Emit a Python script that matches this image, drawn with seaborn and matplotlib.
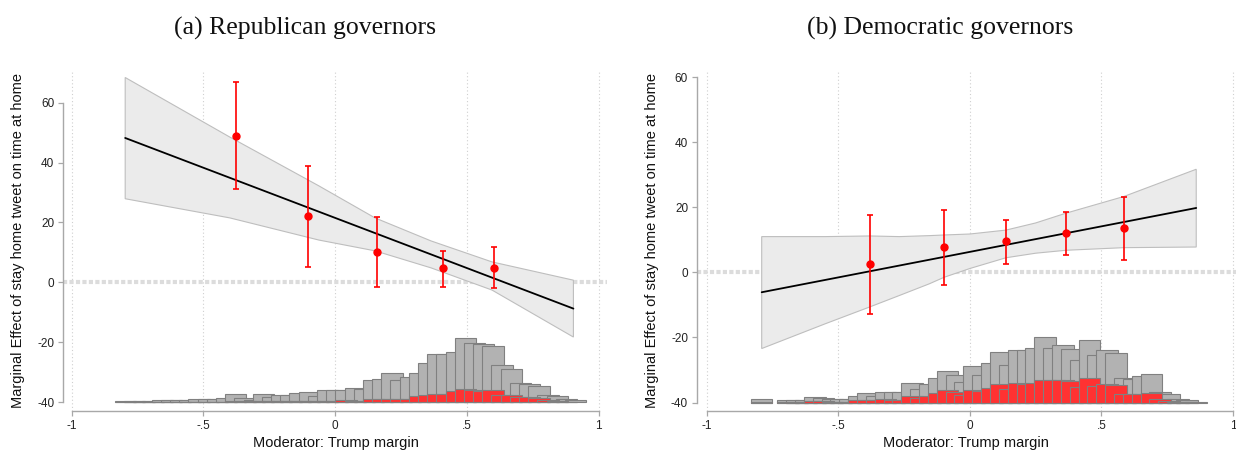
import numpy as np
import pandas as pd
import matplotlib
matplotlib.use("Agg")
import matplotlib.pyplot as plt
import seaborn as sns

# ---------------- Republican governors ----------------
rep_line_x = [-0.797, 0.904]
rep_line_y = [48.2, -8.8]
rep_band_x = [-0.797, -0.4, -0.062, 0.151, 0.364, 0.595, 0.904]
rep_band_hi = [68.4, 48.5, 32.2, 21.5, 13.8, 6.8, 0.7]
rep_band_lo = [27.9, 21.5, 14.1, 10.5, 4.8, -2.6, -18.3]
rep_bin_x = [-0.375, -0.104, 0.157, 0.408, 0.603]
rep_bin_est = [49.0, 22.1, 10.1, 4.6, 4.9]
rep_bin_lo = [31.1, 5.1, -1.6, -1.6, -2.0]
rep_bin_hi = [66.9, 38.9, 21.8, 10.6, 11.7]
# moderator histogram (all units / treated units), 50 bins over the moderator range
rep_hist_range = (-0.836, 0.872)
rep_hist_all = [0.2, 0.5, 0.5, 0.3, 0.8, 0.7, 0.8, 0.8, 1.1, 1.0,
                1.1, 1.3, 2.8, 1.5, 0.8, 2.8, 1.7, 2.2, 2.5, 3.0,
                3.5, 1.9, 3.9, 3.9, 4.0, 4.8, 4.3, 7.2, 7.8, 9.8,
                7.5, 8.2, 9.7, 12.9, 16.0, 16.0, 16.8, 21.5, 19.7, 19.3,
                18.6, 12.3, 10.9, 6.5, 6.1, 5.3, 2.2, 2.0, 1.1, 0.6]
rep_hist_treated = [0.1, 0.1, 0.1, 0.1, 0.1, 0.1, 0.1, 0.1, 0.1, 0.1,
                    0.1, 0.1, 0.2, 0.3, 0.2, 0.3, 0.2, 0.3, 0.3, 0.3,
                    0.3, 0.3, 0.3, 0.5, 0.6, 0.5, 0.5, 0.9, 1.1, 1.1,
                    0.9, 1.1, 2.0, 2.5, 2.8, 2.8, 3.6, 4.5, 4.1, 3.7,
                    4.1, 2.5, 2.2, 1.7, 1.7, 1.3, 0.8, 0.3, 0.1, 0.0]

# ---------------- Democratic governors ----------------
dem_line_x = [-0.791, 0.860]
dem_line_y = [-6.1, 19.8]
dem_band_x = [-0.791, -0.55, -0.38, -0.268, -0.154, -0.098, 0.0, 0.137, 0.25, 0.365, 0.584, 0.860]
dem_band_hi = [11.0, 11.0, 11.2, 11.0, 11.3, 11.5, 11.8, 13.0, 15.2, 18.2, 23.3, 31.7]
dem_band_lo = [-23.4, -15.8, -10.6, -7.1, -3.5, -1.5, 1.2, 4.5, 5.9, 6.8, 7.6, 7.8]
dem_bin_x = [-0.380, -0.098, 0.137, 0.365, 0.584]
dem_bin_est = [2.5, 7.7, 9.5, 12.1, 13.5]
dem_bin_lo = [-12.8, -3.8, 2.7, 5.4, 3.8]
dem_bin_hi = [17.7, 19.1, 16.1, 18.7, 23.1]
dem_hist_range = (-0.833, 0.817)
dem_hist_all = [1.0, 0.0, 0.0, 0.7, 0.8, 0.8, 1.8, 1.5, 1.2, 1.2,
                1.0, 2.1, 2.9, 2.1, 3.4, 3.4, 3.4, 6.0, 4.1, 5.7,
                7.7, 9.8, 8.4, 6.4, 11.3, 8.5, 12.3, 15.4, 11.5, 16.1,
                16.1, 16.7, 20.0, 16.7, 17.7, 16.4, 13.1, 19.1, 14.6, 16.0,
                15.3, 7.5, 7.2, 8.1, 8.7, 3.4, 2.5, 1.0, 0.9, 0.3]
dem_hist_treated = [0.3, 0.0, 0.0, 0.3, 0.3, 0.3, 0.5, 0.5, 0.3, 0.3,
                    0.3, 0.7, 0.8, 0.7, 1.0, 0.8, 0.9, 2.1, 1.5, 2.1,
                    2.8, 3.8, 3.1, 2.3, 3.8, 3.5, 4.4, 5.8, 4.1, 6.1,
                    5.7, 6.1, 7.0, 7.0, 6.9, 6.5, 4.9, 7.5, 5.1, 5.8,
                    5.3, 2.6, 2.6, 2.6, 2.8, 1.0, 0.5, 0.2, 0.1, 0.0]

titles = ["(a) Republican governors", "(b) Democratic governors"]
x_label = "Moderator: Trump margin"
y_label = "Marginal Effect of stay home tweet on time at home"
x_ticks = [-1, -0.5, 0, 0.5, 1]
x_tick_labels = ["-1", "-.5", "0", ".5", "1"]
y_ticks = [-40, -20, 0, 20, 40, 60]
y_tick_labels = ["-40", "-20", "0", "20", "40", "60"]

sns.set_theme(style="white")
plt.rcParams["font.family"] = ["Liberation Sans", "DejaVu Sans"]

W, H = 1236, 454
fig = plt.figure(figsize=(W / 100, H / 100), dpi=100)

AXIS_GRAY = "#a8a8a8"
BAR_GRAY = "#b2b2b2"
BAR_EDGE = "#808080"
BAR_RED = "#ff3232"
POINT_RED = "#ff0000"


def draw_panel(ax, line_x, line_y, band_x, band_hi, band_lo,
               bx, best, blo, bhi, hist_range, hist_all, hist_tr,
               bar_width, xlim, ylim):
    ax.set_xlim(*xlim)
    ax.set_ylim(*ylim)

    # vertical dotted grid at the x ticks
    for xv in x_ticks:
        ax.axvline(xv, color="#cfcfcf", lw=0.8, ls=(0, (1, 2.2)), zorder=0)

    # zero reference line
    ax.axhline(0, color="#dcdcdc", lw=3.0, ls=(0, (1.0, 0.55)), zorder=1)

    # confidence band of the linear marginal effect
    poly_x = list(band_x) + list(band_x[::-1])
    poly_y = list(band_hi) + list(band_lo[::-1])
    ax.fill(poly_x, poly_y, facecolor="#ebebeb", edgecolor="#bebebe",
            lw=0.8, zorder=2)

    # marginal effect line
    sns.lineplot(x=line_x, y=line_y, ax=ax, color="black", lw=1.3,
                 zorder=4, legend=False)

    # histogram of the moderator at the bottom
    n = len(hist_all)
    left = np.linspace(hist_range[0], hist_range[1], n)
    all_h = np.array(hist_all)
    tr_h = np.array(hist_tr)
    m = all_h > 0
    ax.bar(left[m], all_h[m], width=bar_width, bottom=-40, align="edge",
           color=BAR_GRAY, edgecolor=BAR_EDGE, lw=0.8, zorder=3)
    m = tr_h > 0
    ax.bar(left[m], tr_h[m], width=bar_width, bottom=-40, align="edge",
           color=BAR_RED, edgecolor=BAR_EDGE, lw=0.8, zorder=3)

    # binned estimates with their intervals
    best = np.array(best)
    yerr = np.vstack([best - np.array(blo), np.array(bhi) - best])
    ax.errorbar(bx, best, yerr=yerr, fmt="o", color=POINT_RED,
                ecolor=POINT_RED, elinewidth=1.2, capsize=2.2,
                capthick=1.2, markersize=5, zorder=5)

    # axes styling
    for s in ["top", "right"]:
        ax.spines[s].set_visible(False)
    for s in ["left", "bottom"]:
        ax.spines[s].set_color(AXIS_GRAY)
        ax.spines[s].set_linewidth(1.0)
    ax.spines["left"].set_bounds(-40, 60)
    ax.spines["bottom"].set_bounds(-1, 1)
    ax.set_xticks(x_ticks)
    ax.set_xticklabels(x_tick_labels)
    ax.set_yticks(y_ticks)
    ax.set_yticklabels(y_tick_labels)
    ax.tick_params(axis="both", which="major", direction="out", length=3.6,
                   width=0.9, color=AXIS_GRAY, labelsize=8.5,
                   labelcolor="#222222", left=True, bottom=True)
    ax.tick_params(axis="x", pad=3.2)
    ax.tick_params(axis="y", pad=2.6)
    ax.set_xlabel(x_label, fontsize=10.5, color="#111111")
    ax.set_ylabel(y_label, fontsize=10.5, color="#111111")
    ax.grid(False)
    ax.set_facecolor("white")


# left panel
axL = fig.add_axes([63 / W, 43.3 / H, 544.4 / W, 340.7 / H])
draw_panel(axL, rep_line_x, rep_line_y, rep_band_x, rep_band_hi, rep_band_lo,
           rep_bin_x, rep_bin_est, rep_bin_lo, rep_bin_hi,
           rep_hist_range, rep_hist_all, rep_hist_treated, 0.081,
           (-1.033, 1.033), (-42.9, 70.9))
axL.xaxis.set_label_coords(0.5015, -0.095)
axL.xaxis.label.set_va("center")
axL.yaxis.set_label_coords(-0.0827, 0.5)
axL.yaxis.label.set_va("center")

# right panel
axR = fig.add_axes([696.7 / W, 43.3 / H, 539.0 / W, 340.7 / H])
draw_panel(axR, dem_line_x, dem_line_y, dem_band_x, dem_band_hi, dem_band_lo,
           dem_bin_x, dem_bin_est, dem_bin_lo, dem_bin_hi,
           dem_hist_range, dem_hist_all, dem_hist_treated, 0.0824,
           (-1.038, 1.010), (-42.5, 62.2))
axR.xaxis.set_label_coords(0.5, -0.095)
axR.xaxis.label.set_va("center")
axR.yaxis.set_label_coords(-0.083, 0.5)
axR.yaxis.label.set_va("center")

# panel titles
fig.text(305.5 / W, 1 - 34.3 / H, titles[0], ha="center", va="baseline",
         fontsize=18.5, family=["Liberation Serif", "DejaVu Serif"], color="#111111")
fig.text(940 / W, 1 - 34.3 / H, titles[1], ha="center", va="baseline",
         fontsize=18.5, family=["Liberation Serif", "DejaVu Serif"], color="#111111")

fig.savefig("out.png", dpi=100, facecolor="white")
